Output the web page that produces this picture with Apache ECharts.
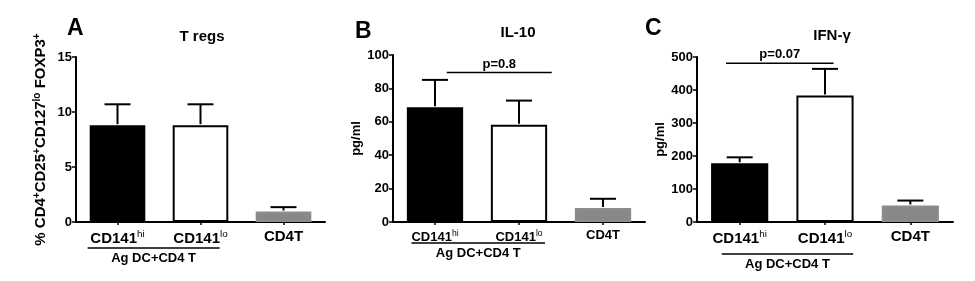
<!DOCTYPE html>
<html>
<head>
  <meta charset="utf-8">
  <title>T regs / IL-10 / IFN-g</title>
  <script src="https://cdn.jsdelivr.net/npm/echarts@6/dist/echarts.min.js"></script>
  <style>
    html, body { margin: 0; padding: 0; background: #fff; }
  </style>
</head>
<body>
<div id="main" style="width: 975px;height:281px;"></div>
<script type="text/javascript">
  // data
  var categories = ['CD141{sup|hi}', 'CD141{sup|lo}', 'CD4T'];
  var panelLetters = ['A', 'B', 'C'];
  var panelTitles = ['T regs', 'IL-10', 'IFN-γ'];
  var yNames = ['% CD4{sup|+}CD25{sup|+}CD127{sup|lo} FOXP3{sup|+}', 'pg/ml', 'pg/ml'];
  var yMax = [15, 100, 500];
  var yStep = [5, 20, 100];

  var tregMean = [8.8, 8.8, 0.95];
  var tregErr = [10.7, 10.7, 1.35];
  var il10Mean = [68.7, 58.2, 8.4];
  var il10Err = [85.1, 72.7, 13.9];
  var ifngMean = [178, 383, 50];
  var ifngErr = [196, 464, 65];

  var means = [tregMean, il10Mean, ifngMean];
  var errs = [tregErr, il10Err, ifngErr];

  // significance brackets: [from category, to category, y value, label]
  var pBrackets = [null, [0.14, 1.39, 89.5, 'p=0.8'], [-0.16, 1.1, 481, 'p=0.07']];
  var groupLabel = 'Ag DC+CD4 T';

  var barColors = ['#000000', '#ffffff', '#888888'];
  var barBorders = ['#000000', '#000000', '#8c8c8c'];
  var FONT = 'Arial, "Liberation Sans", sans-serif';

  // layout per panel
  var grids = [
    { left: 76, right: 650, top: 57, bottom: 59 },
    { left: 393, right: 330, top: 55, bottom: 59 },
    { left: 697, right: 22, top: 57, bottom: 59 }
  ];
  var letterPos = [[62, 12], [350, 15], [640, 12]];
  var titleX = [197, 513, 827];
  var titleY = [24, 20, 23];
  var nameGaps = [26, 29, 21];
  var xFont = [15, 13, 15];
  var underline = [
    { from: -0.36, to: 0.23, dy: 26, ty: 30 },
    { from: -0.28, to: 0.31, dy: 21, ty: 25 },
    { from: -0.21, to: 0.33, dy: 32, ty: 36 }
  ];

  var chart = echarts.init(document.getElementById('main'));

  var option = {
    backgroundColor: '#fff',
    animation: false,
    textStyle: { fontFamily: FONT },
    title: [],
    grid: grids,
    xAxis: [],
    yAxis: [],
    series: []
  };

  for (var k = 0; k < 3; k++) {
    option.title.push({
      text: panelLetters[k], left: letterPos[k][0], top: letterPos[k][1],
      textStyle: { fontSize: 23, fontWeight: 'bold', color: '#000', fontFamily: FONT }
    });
    option.title.push({
      text: panelTitles[k], left: titleX[k], top: titleY[k], textAlign: 'center',
      textStyle: { fontSize: 15, fontWeight: 'bold', color: '#000', fontFamily: FONT }
    });

    option.xAxis.push({
      type: 'category', gridIndex: k, data: categories,
      axisLine: { lineStyle: { color: '#000', width: 2 } },
      axisTick: { show: true, alignWithLabel: true, length: 3, lineStyle: { color: '#000', width: 1.5 } },
      axisLabel: {
        interval: 0, hideOverlap: false,
        margin: 7, color: '#000', fontWeight: 'bold', fontSize: xFont[k], fontFamily: FONT,
        rich: { sup: { fontSize: xFont[k] * 0.66, fontWeight: 'normal', verticalAlign: 'top', padding: [0, 0, xFont[k] * 0.6, 0], color: '#000' } }
      }
    });

    option.yAxis.push({
      type: 'value', gridIndex: k, min: 0, max: yMax[k], interval: yStep[k],
      name: yNames[k], nameLocation: 'middle', nameRotate: 90, nameGap: nameGaps[k],
      nameTextStyle: {
        fontSize: k === 0 ? 15 : 13, fontWeight: 'bold', color: '#000', fontFamily: FONT,
        rich: { sup: { fontSize: 10, fontWeight: 'bold', verticalAlign: 'top', padding: [0, 0, 8, 0], color: '#000' } }
      },
      splitLine: { show: false },
      axisLine: { show: true, lineStyle: { color: '#000', width: 2 } },
      axisTick: { show: true, length: 4, lineStyle: { color: '#000', width: 1.5 } },
      axisLabel: { color: '#000', fontWeight: 'bold', fontSize: 13, margin: 4, fontFamily: FONT }
    });

    var barData = means[k].map(function (v, i) {
      return { value: v, itemStyle: { color: barColors[i], borderColor: barBorders[i], borderWidth: 2 } };
    });
    option.series.push({
      type: 'bar', xAxisIndex: k, yAxisIndex: k, data: barData, barWidth: '67%', z: 2
    });

    // error bars (upper only, with cap)
    option.series.push({
      type: 'custom', xAxisIndex: k, yAxisIndex: k, z: 3,
      data: means[k].map(function (v, i) { return [i, v, errs[k][i]]; }),
      renderItem: function (params, api) {
        var p0 = api.coord([api.value(0), api.value(1)]);
        var p1 = api.coord([api.value(0), api.value(2)]);
        var hw = 13;
        var st = { stroke: '#000', lineWidth: 2 };
        return {
          type: 'group',
          children: [
            { type: 'line', shape: { x1: p0[0], y1: p0[1] - 1, x2: p1[0], y2: p1[1] }, style: st },
            { type: 'line', shape: { x1: p1[0] - hw, y1: p1[1], x2: p1[0] + hw, y2: p1[1] }, style: st }
          ]
        };
      }
    });

    // group underline and label below the axis
    (function (u) {
      option.series.push({
        type: 'custom', xAxisIndex: k, yAxisIndex: k, z: 3, clip: false, silent: true,
        data: [[0, 0]],
        renderItem: function (params, api) {
          var c0 = api.coord([0, 0]);
          var c1 = api.coord([1, 0]);
          var band = c1[0] - c0[0];
          var xa = c0[0] + u.from * band, xb = c1[0] + u.to * band;
          return {
            type: 'group',
            children: [
              { type: 'line', shape: { x1: xa, y1: c0[1] + u.dy, x2: xb, y2: c0[1] + u.dy }, style: { stroke: '#000', lineWidth: 1.5 } },
              { type: 'text', style: { x: (xa + xb) / 2, y: c0[1] + u.ty, text: groupLabel, textAlign: 'center', textVerticalAlign: 'top', font: 'bold 13px ' + FONT, fill: '#000' } }
            ]
          };
        }
      });
    })(underline[k]);

    // significance bracket
    if (pBrackets[k]) {
      (function (b) {
        option.series.push({
          type: 'custom', xAxisIndex: k, yAxisIndex: k, z: 3, clip: false, silent: true,
          data: [[0, b[2]]],
          renderItem: function (params, api) {
            var c0 = api.coord([0, b[2]]);
            var c1 = api.coord([1, b[2]]);
            var band = c1[0] - c0[0];
            var xa = c0[0] + b[0] * band, xb = c0[0] + b[1] * band;
            return {
              type: 'group',
              children: [
                { type: 'line', shape: { x1: xa, y1: c0[1], x2: xb, y2: c0[1] }, style: { stroke: '#000', lineWidth: 1.5 } },
                { type: 'text', style: { x: (xa + xb) / 2, y: c0[1] - 2, text: b[3], textAlign: 'center', textVerticalAlign: 'bottom', font: 'bold 13px ' + FONT, fill: '#000' } }
              ]
            };
          }
        });
      })(pBrackets[k]);
    }
  }

  chart.setOption(option);
</script>
</body>
</html>
